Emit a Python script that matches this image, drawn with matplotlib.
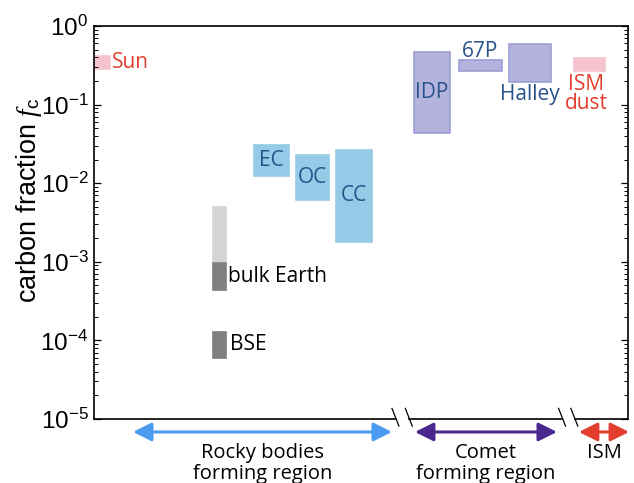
import numpy as np
import matplotlib
matplotlib.use("Agg")
import matplotlib.pyplot as plt
from matplotlib.lines import Line2D

plt.rcParams['font.family'] = ['Liberation Sans', 'DejaVu Sans']
plt.rcParams['mathtext.fontset'] = 'custom'
plt.rcParams['mathtext.rm'] = 'Liberation Sans'
plt.rcParams['mathtext.it'] = 'Liberation Serif:italic'
plt.rcParams['mathtext.sf'] = 'Liberation Sans'

LABEL_FONT = ['Open Sans', 'DejaVu Sans']

# carbon fraction ranges (low, high)
names = ['Sun', 'bulk Earth (upper)', 'bulk Earth', 'BSE', 'EC', 'OC', 'CC',
         'IDP', '67P', 'Halley', 'ISM dust']
f_low = [0.284, 9.7e-4, 4.4e-4, 6.0e-5, 0.0124, 0.0061, 0.00179,
         0.0435, 0.267, 0.194, 0.267]
f_high = [0.415, 5.0e-3, 9.7e-4, 1.28e-4, 0.0306, 0.0229, 0.0264,
          0.467, 0.369, 0.59, 0.392]

# horizontal placement (x-axis carries no values)
x_left = [1, 119, 119, 119, 160, 202, 242, 320, 365, 415, 480]
x_right = [16, 132, 132, 132, 195, 235, 278, 356, 408, 457, 511]

pink = '#f4c3cd'
blue = '#95cbe7'
lav = '#b3b3de'
lav_edge = '#9e9ed6'
fills = [pink, '#d4d4d4', '#808080', '#808080', blue, blue, blue, lav, lav, lav, pink]
edges = [pink, '#d4d4d4', '#808080', '#808080', blue, blue, blue, lav_edge, lav_edge, lav_edge, pink]

red = '#e23d2d'
dblue = '#27528a'

fig = plt.figure(figsize=(6.34, 4.83), dpi=100)
ax = fig.add_axes([94 / 634, 1 - 419 / 483, 534 / 634, 393 / 483])

for i in range(len(names)):
    ax.bar(x_left[i], f_high[i] - f_low[i], bottom=f_low[i],
           width=x_right[i] - x_left[i], align='edge',
           color=fills[i], edgecolor=edges[i], linewidth=1.2)

ax.set_yscale('log')
ax.set_ylim(1e-5, 1)
ax.set_xlim(0, 534)
ax.set_xticks([])
ax.set_yticks([1e-5, 1e-4, 1e-3, 1e-2, 1e-1, 1])
ax.tick_params(axis='y', which='both', direction='in', right=True,
               labelsize=17.5, pad=4)
ax.tick_params(axis='y', which='major', length=5, width=0.9)
ax.tick_params(axis='y', which='minor', length=3, width=0.7)
ax.set_ylabel(r'carbon fraction $f_{\mathrm{c}}$', fontsize=19.5)
ax.yaxis.set_label_coords(-0.094, 0.557)
for s in ['left', 'right', 'top']:
    ax.spines[s].set_linewidth(1.2)
ax.spines['bottom'].set_visible(False)


def gmid(i):
    return np.sqrt(f_low[i] * f_high[i])


def xmid(i):
    return 0.5 * (x_left[i] + x_right[i])


fs = 15
ax.text(x_right[0] + 2, gmid(0), 'Sun', color=red, fontsize=fs, family=LABEL_FONT,
        va='center', ha='left')
ax.text(x_right[2] + 2, gmid(2), 'bulk Earth', color='black', fontsize=fs,
        family=LABEL_FONT, va='center', ha='left')
ax.text(x_right[3] + 4, gmid(3), 'BSE', color='black', fontsize=fs,
        family=LABEL_FONT, va='center', ha='left')
for i in [4, 5, 6, 7]:
    ax.text(xmid(i), gmid(i), names[i], color=dblue, fontsize=fs,
            family=LABEL_FONT, va='center', ha='center')
ax.text(xmid(8), f_high[8] * 0.95, '67P', color=dblue, fontsize=fs,
        family=LABEL_FONT, va='bottom', ha='center')
ax.text(xmid(9), f_low[9] * 0.95, 'Halley', color=dblue, fontsize=fs,
        family=LABEL_FONT, va='top', ha='center')
ax.text(xmid(10) - 3, f_low[10] * 0.92, 'ISM\ndust', color=red, fontsize=fs,
        family=LABEL_FONT, va='top', ha='center', linespacing=0.9)

# broken bottom axis
segs = [(0, 0.565), (0.59, 0.877), (0.90, 1.0)]
for a, b in segs:
    ax.add_line(Line2D([a, b], [0, 0], transform=ax.transAxes, color='black',
                       lw=1.2, clip_on=False))
for xb in [0.565, 0.59, 0.877, 0.90]:
    ax.add_line(Line2D([xb - 0.007, xb + 0.006], [0.027, -0.018],
                       transform=ax.transAxes, color='black', lw=0.9,
                       clip_on=False))

# region arrows
regions = ['Rocky bodies\nforming region', 'Comet\nforming region', 'ISM']
reg_start = [0.073, 0.601, 0.908]
reg_end = [0.558, 0.867, 1.002]
reg_colors = ['#4b9bf0', '#4a2890', red]
for lab, a, b, c in zip(regions, reg_start, reg_end, reg_colors):
    ax.annotate('', xy=(b, -0.033), xytext=(a, -0.033), xycoords='axes fraction',
                textcoords='axes fraction',
                arrowprops=dict(arrowstyle='<|-|>,head_length=0.7,head_width=0.35',
                                color=c, lw=2.2, mutation_scale=16,
                                shrinkA=0, shrinkB=0),
                annotation_clip=False)
    ax.text((a + b) / 2, -0.06, lab, transform=ax.transAxes, ha='center',
            va='top', fontsize=14.5, family=LABEL_FONT, linespacing=1.12)

fig.savefig('out.png', dpi=100)
